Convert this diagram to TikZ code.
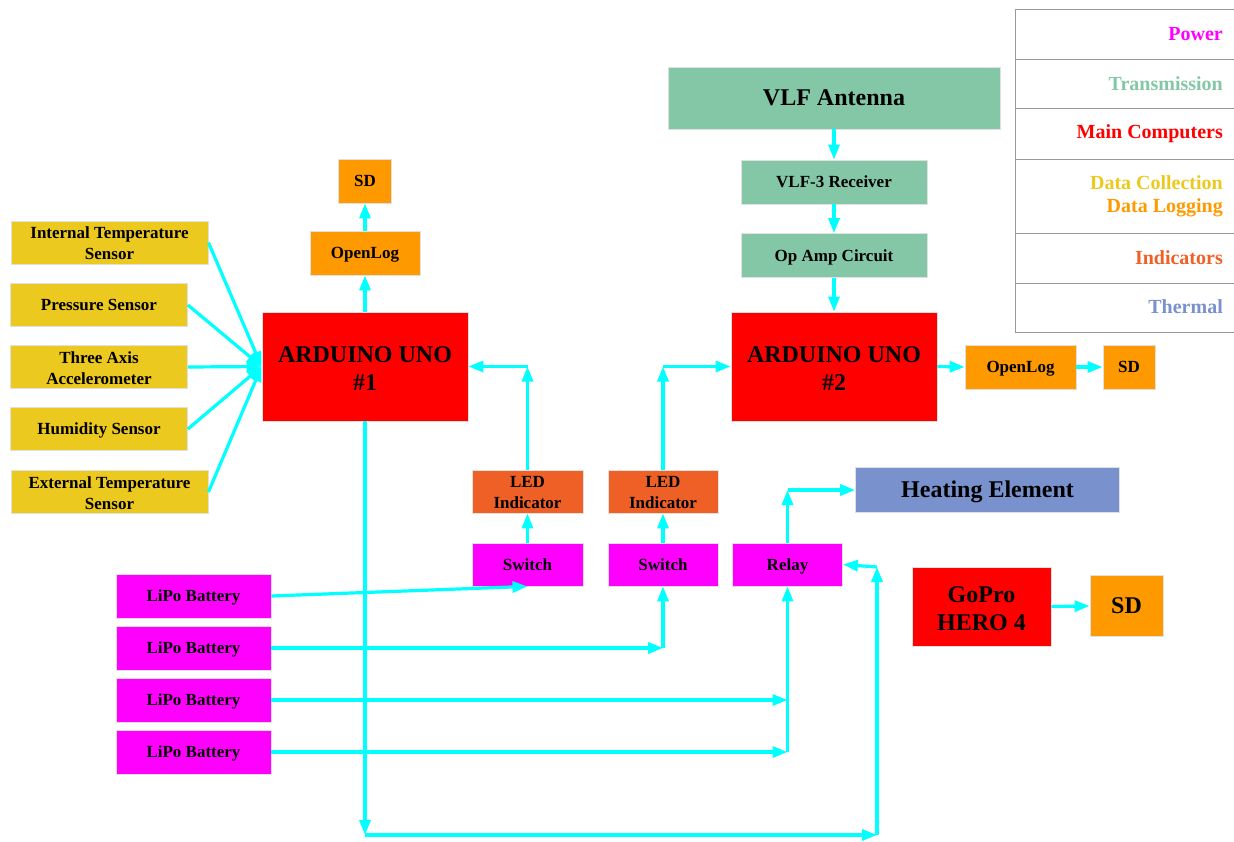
\documentclass[tikz,border=0pt]{standalone}
\usepackage{fontspec}
\setmainfont{Liberation Serif}
\usetikzlibrary{arrows.meta}
\definecolor{power}{RGB}{255, 0, 255}
\definecolor{trans}{RGB}{132, 199, 167}
\definecolor{computer}{RGB}{255, 0, 0}
\definecolor{collect}{RGB}{236, 201, 31}
\definecolor{logging}{RGB}{255, 153, 0}
\definecolor{indicator}{RGB}{238, 96, 38}
\definecolor{thermal}{RGB}{121, 145, 205}
\definecolor{wirecolor}{RGB}{0, 255, 255}
\newcommand{\capstrut}{\rule[-0.24em]{0pt}{1.14em}}
\newcommand{\headstrut}{\rule{0pt}{1.04em}}
\tikzset{
    box/.style={draw=black!12, line width=0.8pt, inner sep=0pt, align=center, text=black,
        execute at begin node=\capstrut},
    small/.style={font=\fontsize{17}{21}\selectfont\bfseries},
    big/.style={font=\fontsize{24}{28}\selectfont\bfseries},
    wire/.style={draw=wirecolor, line width=3.2pt, -{Triangle[length=15pt, width=11pt]}},
    key/.style={anchor=east, inner sep=0pt, font=\fontsize{20}{24}\selectfont\bfseries},
    keyline/.style={draw=black!40, line width=1pt}
}

\begin{document}
\begin{tikzpicture}[x=1pt, y=-1pt]

    \useasboundingbox (0, 0) rectangle (1234, 841);

    % sensors
    \node[box, small, fill=collect, minimum width=197pt, minimum height=43pt]
        (intTemp) at (109.5, 242.5) {\headstrut Internal Temperature\\Sensor};
    \node[box, small, fill=collect, minimum width=177pt, minimum height=43pt]
        (press) at (99, 305) {Pressure Sensor};
    \node[box, small, fill=collect, minimum width=177pt, minimum height=43pt]
        (accel) at (99, 367) {\headstrut Three Axis\\Accelerometer};
    \node[box, small, fill=collect, minimum width=177pt, minimum height=43pt]
        (humid) at (99, 429) {Humidity Sensor};
    \node[box, small, fill=collect, minimum width=197pt, minimum height=43pt]
        (extTemp) at (109.5, 492) {\headstrut External Temperature\\Sensor};

    % computers and logging
    \node[box, big, fill=computer, minimum width=206pt, minimum height=109pt]
        (ardOne) at (365, 366.5) {\headstrut ARDUINO UNO\\\#1};
    \node[box, small, fill=logging, minimum width=110pt, minimum height=44pt]
        (logOne) at (365, 253) {OpenLog};
    \node[box, small, fill=logging, minimum width=53pt, minimum height=44pt]
        (sdOne) at (365, 181) {SD};

    \node[box, big, fill=trans, minimum width=332pt, minimum height=62pt]
        (ant) at (834, 98) {VLF Antenna};
    \node[box, small, fill=trans, minimum width=186pt, minimum height=44pt]
        (recv) at (834, 182) {VLF-3 Receiver};
    \node[box, small, fill=trans, minimum width=186pt, minimum height=44pt]
        (opamp) at (834, 255.5) {Op Amp Circuit};
    \node[box, big, fill=computer, minimum width=206pt, minimum height=109pt]
        (ardTwo) at (834, 366.5) {\headstrut ARDUINO UNO\\\#2};
    \node[box, small, fill=logging, minimum width=111pt, minimum height=44pt]
        (logTwo) at (1020.5, 367) {OpenLog};
    \node[box, small, fill=logging, minimum width=52pt, minimum height=44pt]
        (sdTwo) at (1129, 367) {SD};

    % indicators and power
    \node[box, small, fill=indicator, minimum width=111pt, minimum height=43pt]
        (ledOne) at (527.5, 491.5) {\headstrut LED\\Indicator};
    \node[box, small, fill=indicator, minimum width=110pt, minimum height=43pt]
        (ledTwo) at (663, 491.5) {\headstrut LED\\Indicator};
    \node[box, small, fill=power, minimum width=111pt, minimum height=43pt]
        (swOne) at (527.5, 564.5) {Switch};
    \node[box, small, fill=power, minimum width=110pt, minimum height=43pt]
        (swTwo) at (663, 564.5) {Switch};
    \node[box, small, fill=power, minimum width=110pt, minimum height=43pt]
        (relay) at (787.5, 564.5) {Relay};
    \node[box, big, fill=thermal, minimum width=264pt, minimum height=45pt]
        (heat) at (987.5, 490) {Heating Element};

    \node[box, big, fill=computer, minimum width=139pt, minimum height=79pt]
        (gopro) at (981.5, 606.5) {\headstrut GoPro\\HERO 4};
    \node[box, big, fill=logging, minimum width=73pt, minimum height=61pt]
        (sdCam) at (1126.5, 606) {SD};

    \foreach \name/\ypos in {lipoA/596, lipoB/648, lipoC/700, lipoD/752} {%
        \node[box, small, fill=power, minimum width=155pt, minimum height=44pt]
            (\name) at (193.5, \ypos) {LiPo Battery};
    };

    % corners of the routed wires
    \coordinate (cLedOne) at (ledOne.north |- ardOne.east);
    \coordinate (cLedTwo) at (ledTwo.north |- ardTwo.west);
    \coordinate (cHeat) at (relay.north |- heat.west);
    \coordinate (cSwTwo) at (swTwo.south |- lipoB.east);
    \coordinate (cLipoC) at (relay.south |- lipoC.east);
    \coordinate (cLipoD) at (relay.south |- lipoD.east);
    \coordinate (cDown) at (365, 835);
    \coordinate (cRight) at (877, 835);
    \coordinate (cUp) at (877, 567);

    \foreach \src in {intTemp, press, accel, humid, extTemp} {%
        \draw[wire] (\src.east) -- (ardOne.west);
    };

    \draw[wire] (ardOne.north) -- (logOne.south);
    \draw[wire] (logOne.north) -- (sdOne.south);
    \draw[wire] (ant.south) -- (recv.north);
    \draw[wire] (recv.south) -- (opamp.north);
    \draw[wire] (opamp.south) -- (ardTwo.north);
    \draw[wire] (ardTwo.east) -- (logTwo.west);
    \draw[wire] (logTwo.east) -- (sdTwo.west);
    \draw[wire] (gopro.east) -- (sdCam.west);

    \draw[wire] (swOne.north) -- (ledOne.south);
    \draw[wire] (swTwo.north) -- (ledTwo.south);
    \draw[wire] (ledOne.north) -- (cLedOne);
    \draw[wire] (cLedOne) -- (ardOne.east);
    \draw[wire] (ledTwo.north) -- (cLedTwo);
    \draw[wire] (cLedTwo) -- (ardTwo.west);
    \draw[wire] (relay.north) -- (cHeat);
    \draw[wire] (cHeat) -- (heat.west);

    \draw[wire] (lipoA.east) -- (swOne.south);
    \draw[wire] (lipoB.east) -- (cSwTwo);
    \draw[wire] (cSwTwo) -- (swTwo.south);
    \draw[wire] (lipoC.east) -- (cLipoC);
    \draw[wire] (lipoD.east) -- (cLipoD);
    \draw[wire] (cLipoD) -- (relay.south);

    \draw[wire] (ardOne.south) -- (cDown);
    \draw[wire] (cDown) -- (cRight);
    \draw[wire] (cRight) -- (cUp);
    \draw[wire] (cUp) -- (relay.east);

    % key
    \draw[keyline] (1015, 9) -- (1015, 332);
    \foreach \ypos in {9, 59, 108, 159, 233, 283, 332} {%
        \draw[keyline] (1015, \ypos) -- (1234, \ypos);
    };
    \node[key, text=power] (keyPower) at (1223, 34) {Power};
    \node[key, text=trans] (keyTrans) at (1223, 84) {Transmission};
    \node[key, text=computer] (keyComp) at (1223, 134) {Main Computers};
    \node[key, text=collect] (keyCollect) at (1223, 183) {Data Collection};
    \node[key, text=logging] (keyLog) at (1223, 208) {Data Logging};
    \node[key, text=indicator] (keyInd) at (1223, 258) {Indicators};
    \node[key, text=thermal] (keyTherm) at (1223, 307) {Thermal};

\end{tikzpicture}
\end{document}
